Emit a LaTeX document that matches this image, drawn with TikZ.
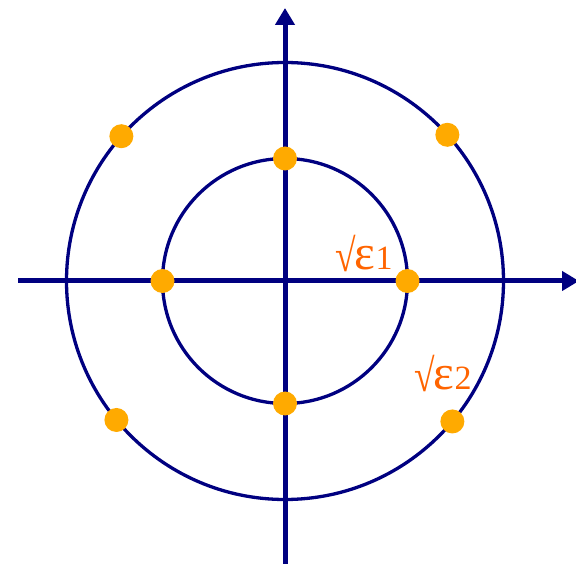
\documentclass[tikz,border=0pt]{standalone}
\usepackage{fontspec}
\usepackage{graphicx}
\usepackage{tikz}
\usetikzlibrary{arrows.meta,calc}

\newfontfamily\lblfont{Liberation Serif}

\definecolor{axisblue}{RGB}{0,0,128}
\definecolor{dotorange}{RGB}{255,170,0}
\definecolor{lblorange}{RGB}{255,100,0}

\newcommand{\rootlbl}[1]{\raisebox{-2pt}{\scalebox{1.1}[1.35]{√}}\kern-1pt\scalebox{1.45}{ε}#1}

\begin{document}
\begin{tikzpicture}[
  x=1pt, y=1pt,
  axis/.style={line width=5pt, axisblue, -{Triangle[length=17pt, width=19pt]}},
  ring/.style={line width=3.3pt, axisblue},
  pt/.style={circle, fill=dotorange, inner sep=0pt, minimum size=24pt},
  lbl/.style={font=\lblfont\fontsize{34}{40}\selectfont, text=lblorange, inner sep=0pt}
]
  \useasboundingbox (0,0) rectangle (576,563);

  % centre of the plane
  \coordinate (o) at (285,282);

  % circles
  \draw[ring] (o) circle (122.5);
  \draw[ring] (o) circle (218.5);

  % axes
  \coordinate (xl) at (18,282);
  \coordinate (xr) at (579,282);
  \coordinate (yb) at (285,-2);
  \coordinate (yt) at (285,555);
  \draw[axis] (xl) -- (xr);
  \draw[axis] (yb) -- (yt);

  % roots on the inner circle
  \foreach \a/\n in {0/a, 90/b, 180/c, 270/d}
    \node[pt] (in\n) at ($(o)+(\a:122.5)$) {};

  % roots on the outer circle
  \foreach \a/\n in {42/a, 138.5/b, 219.5/c, 320/d}
    \node[pt] (out\n) at ($(o)+(\a:218.5)$) {};

  % labels
  \node[lbl] (l1) at (364,309) {\rootlbl{1}};
  \node[lbl] (l2) at (443,189) {\rootlbl{2}};
\end{tikzpicture}
\end{document}
